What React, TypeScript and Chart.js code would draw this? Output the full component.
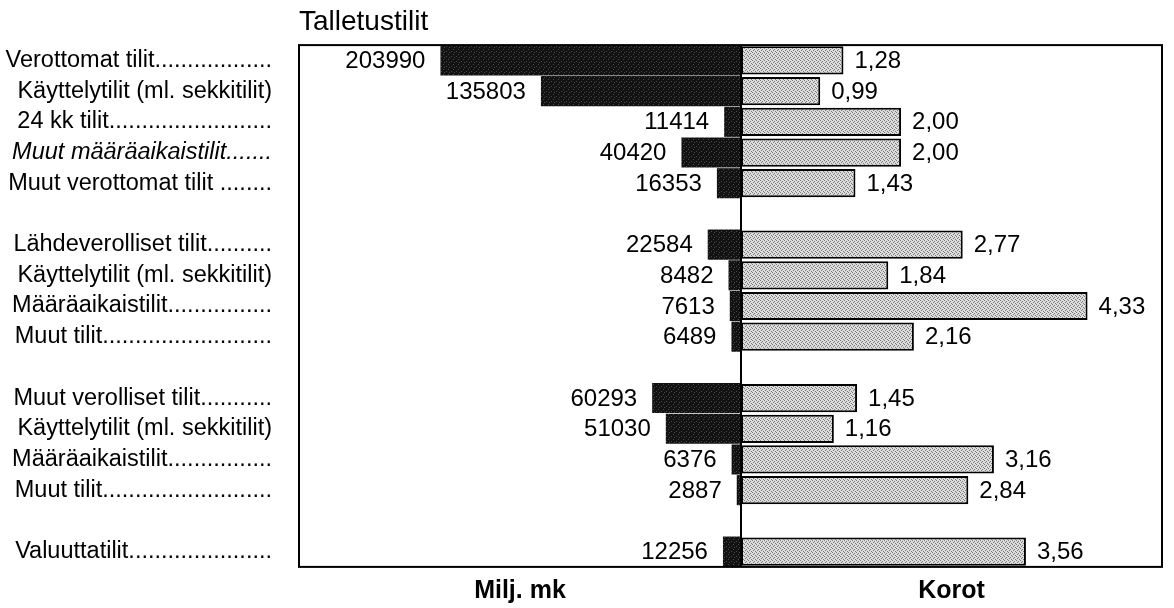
import React, { useEffect, useRef } from "react";
import { Chart, registerables } from "chart.js";

Chart.register(...registerables);

const categories: string[] = [
  "Verottomat tilit..................",
  "Käyttelytilit (ml. sekkitilit)",
  " 24 kk tilit.........................",
  "Muut määräaikaistilit.......",
  "Muut verottomat tilit ........",
  "",
  "Lähdeverolliset tilit..........",
  "Käyttelytilit (ml. sekkitilit)",
  "Määräaikaistilit................",
  "Muut tilit..........................",
  "",
  "Muut verolliset tilit...........",
  "Käyttelytilit (ml. sekkitilit)",
  "Määräaikaistilit................",
  "Muut tilit..........................",
  "",
  "Valuuttatilit......................",
];

const italicRows: number[] = [3];

const amounts: (number | null)[] = [
  203990, 135803, 11414, 40420, 16353, null,
  22584, 8482, 7613, 6489, null,
  60293, 51030, 6376, 2887, null,
  12256,
];

const rates: (number | null)[] = [
  1.28, 0.99, 2.0, 2.0, 1.43, null,
  2.77, 1.84, 4.33, 2.16, null,
  1.45, 1.16, 3.16, 2.84, null,
  3.56,
];

const chartTitle = "Talletustilit";
const amountAxisTitle = "Milj. mk";
const rateAxisTitle = "Korot";
const amountMax = 300000;
const rateMax = 5.26;

const FONT = "'Liberation Sans', Arial, Helvetica, sans-serif";

function makePattern(base: string, dot: string, dots: [number, number][], size: number): CanvasPattern | string {
  const c = document.createElement("canvas");
  c.width = size;
  c.height = size;
  const g = c.getContext("2d");
  if (!g) return base;
  g.fillStyle = base;
  g.fillRect(0, 0, size, size);
  g.fillStyle = dot;
  dots.forEach(([x, y]) => g.fillRect(x, y, 1, 1));
  const p = g.createPattern(c, "repeat");
  return p || base;
}

const valueLabels = {
  id: "valueLabels",
  afterDatasetsDraw(chart: any) {
    const ctx = chart.ctx;
    ctx.save();
    ctx.font = `24px ${FONT}`;
    ctx.fillStyle = "#000";
    ctx.textBaseline = "middle";
    chart.data.datasets.forEach((ds: any, di: number) => {
      const meta = chart.getDatasetMeta(di);
      meta.data.forEach((el: any, i: number) => {
        const v = ds.data[i];
        if (v === null || v === undefined) return;
        if (di === 0) {
          ctx.textAlign = "right";
          ctx.fillText(String(v), el.x - 15, el.y + 1);
        } else {
          ctx.textAlign = "left";
          ctx.fillText(Number(v).toFixed(2).replace(".", ","), el.x + 11, el.y + 1);
        }
      });
    });
    ctx.restore();
  },
};

const frame = {
  id: "frame",
  afterDraw(chart: any) {
    const { ctx, chartArea } = chart;
    const cx = chart.scales.x2.getPixelForValue(0);
    ctx.save();
    ctx.strokeStyle = "#000";
    ctx.lineWidth = 2;
    ctx.strokeRect(chartArea.left, chartArea.top, chartArea.right - chartArea.left, chartArea.bottom - chartArea.top);
    ctx.beginPath();
    ctx.moveTo(cx, chartArea.top);
    ctx.lineTo(cx, chartArea.bottom);
    ctx.stroke();
    ctx.restore();
  },
};

export default function App() {
  const ref = useRef<HTMLCanvasElement | null>(null);

  useEffect(() => {
    if (!ref.current) return;
    const lightFill = makePattern("#dcdcdc", "#7a7a7a", [[0, 0], [2, 1], [1, 2], [3, 3]], 4);
    const darkFill = makePattern("#121212", "#4a4a4a", [[1, 1], [3, 4], [4, 2]], 5);
    const chart = new Chart(ref.current, {
      type: "bar",
      data: {
        labels: categories,
        datasets: [
          {
            label: amountAxisTitle,
            data: amounts,
            xAxisID: "x1",
            backgroundColor: darkFill as any,
            borderWidth: 0,
            grouped: false,
            barPercentage: 0.98,
            categoryPercentage: 1,
          } as any,
          {
            label: rateAxisTitle,
            data: rates,
            xAxisID: "x2",
            backgroundColor: lightFill as any,
            borderColor: "#000",
            borderWidth: 2,
            borderSkipped: false,
            grouped: false,
            barPercentage: 0.92,
            categoryPercentage: 1,
          } as any,
        ],
      },
      options: {
        indexAxis: "y",
        animation: false,
        responsive: true,
        maintainAspectRatio: false,
        layout: { padding: { left: 0, right: 12, top: 0, bottom: 0 } },
        plugins: {
          legend: { display: false },
          tooltip: { enabled: false },
          title: {
            display: true,
            text: chartTitle,
            align: "start",
            fullSize: false,
            color: "#000",
            font: { family: FONT, size: 28, weight: "normal" },
            padding: { top: 5, bottom: 6.5 },
          },
        },
        scales: {
          y: {
            type: "category",
            position: "left",
            offset: true,
            grid: { display: false, drawTicks: false },
            border: { display: false },
            ticks: {
              color: "#000",
              padding: 27,
              autoSkip: false,
              font: (c: any) => ({
                family: FONT,
                size: 23.5,
                style: italicRows.includes(c.index) ? "italic" : "normal",
              }),
            },
            afterFit: (s: any) => {
              s.width = 299;
            },
          } as any,
          x1: {
            type: "linear",
            position: "bottom",
            stack: "bottom",
            stackWeight: 442,
            reverse: true,
            min: 0,
            max: amountMax,
            grid: { display: false, drawTicks: false },
            border: { display: false },
            ticks: { display: false },
            title: {
              display: true,
              text: amountAxisTitle,
              color: "#000",
              font: { family: FONT, size: 25, weight: "bold" },
              padding: { top: 0, bottom: 1 },
            },
            afterFit: (s: any) => {
              s.height = 40;
            },
          } as any,
          x2: {
            type: "linear",
            position: "bottom",
            stack: "bottom",
            stackWeight: 421,
            min: 0,
            max: rateMax,
            grid: { display: false, drawTicks: false },
            border: { display: false },
            ticks: { display: false },
            title: {
              display: true,
              text: rateAxisTitle,
              color: "#000",
              font: { family: FONT, size: 25, weight: "bold" },
              padding: { top: 0, bottom: 1 },
            },
            afterFit: (s: any) => {
              s.height = 40;
            },
          } as any,
        },
      },
      plugins: [valueLabels, frame],
    });
    return () => chart.destroy();
  }, []);

  return (
    <div style={{ position: "absolute", left: 0, top: 0, width: 1174, height: 608, background: "#fff" }}>
      <canvas ref={ref} />
    </div>
  );
}
